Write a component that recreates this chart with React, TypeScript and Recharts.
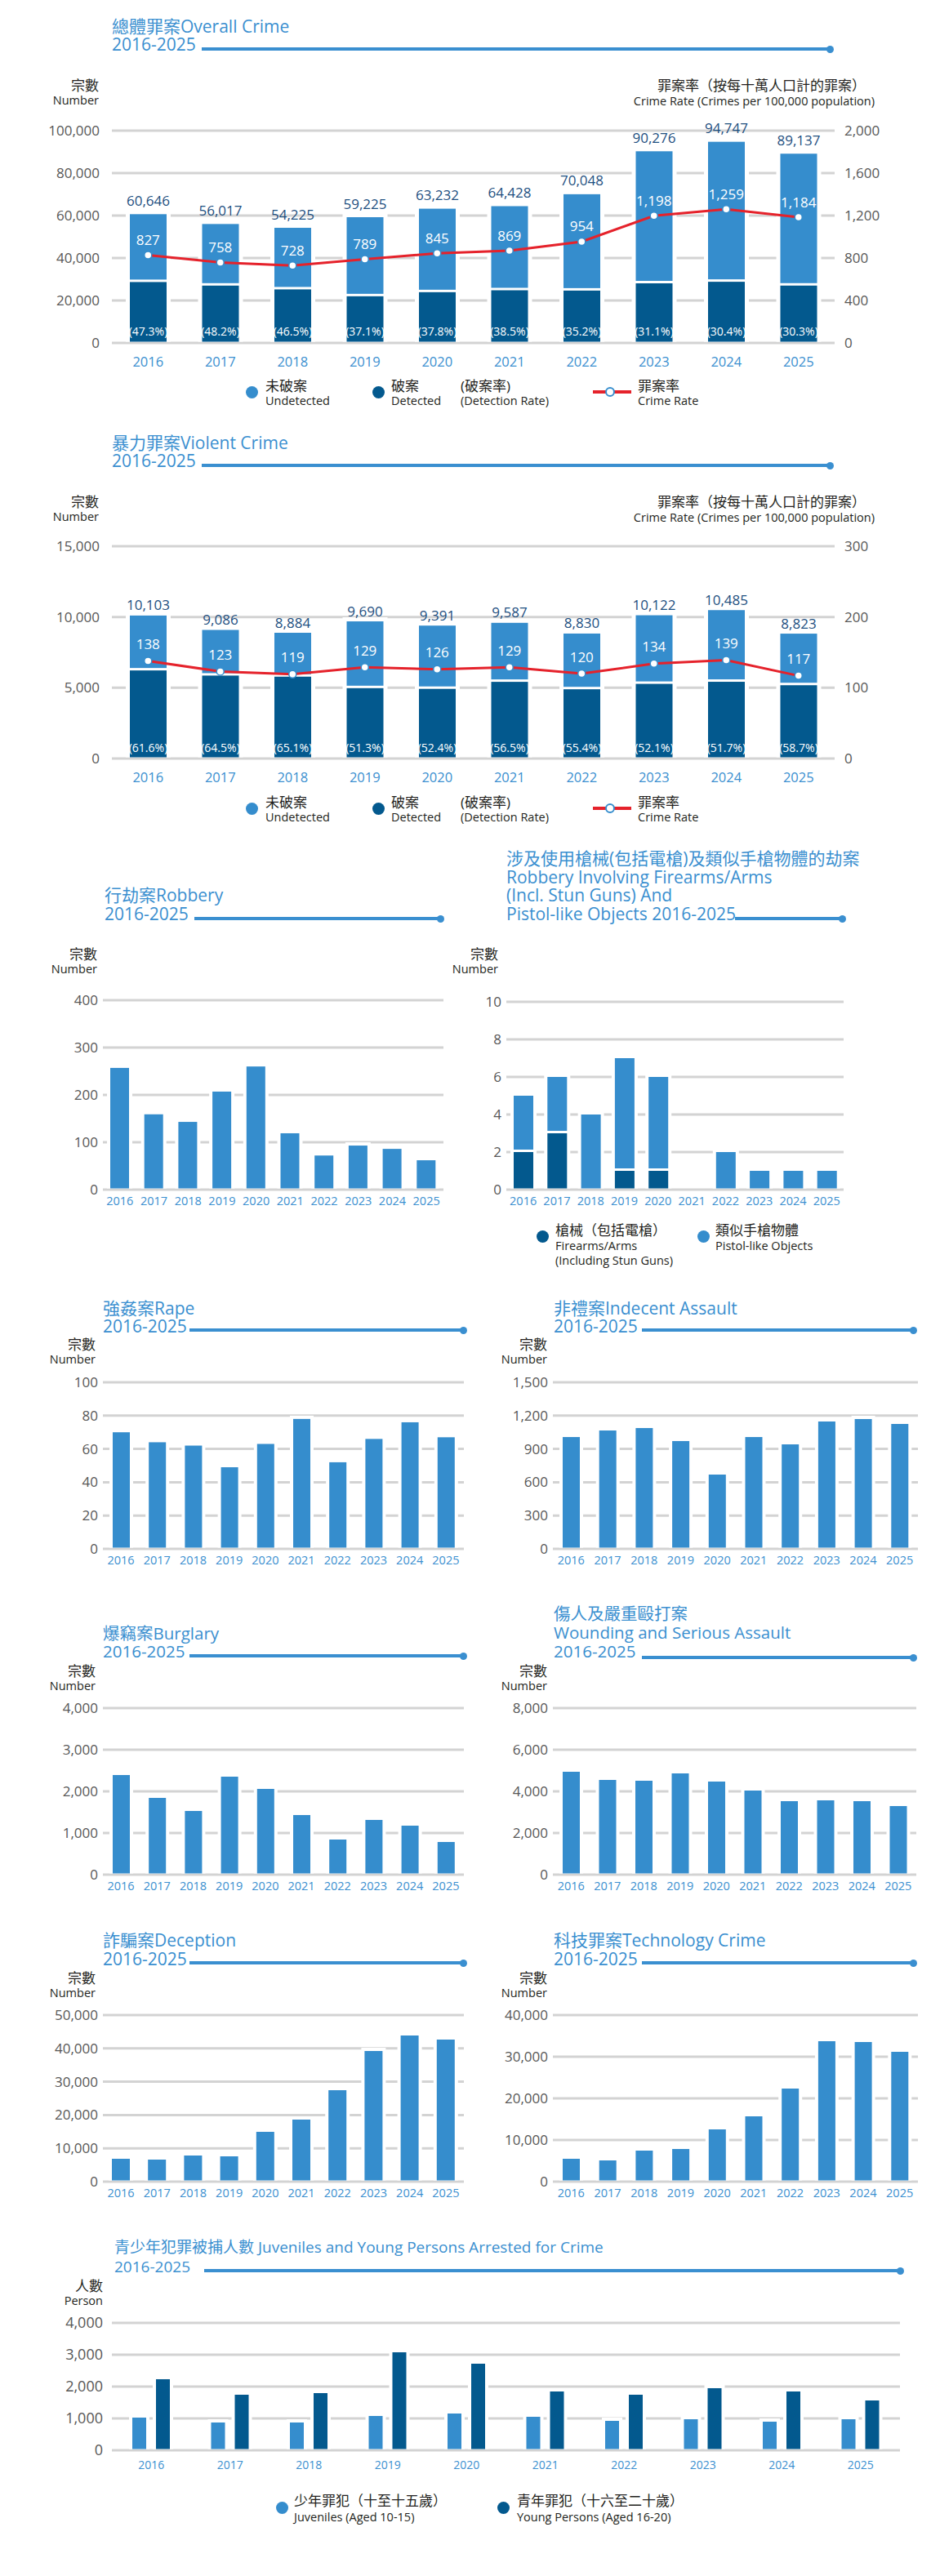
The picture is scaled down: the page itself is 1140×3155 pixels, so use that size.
import React from 'react';
import { ComposedChart, BarChart, Bar, Line, XAxis, YAxis, CartesianGrid, LabelList } from 'recharts';

const FONT = "'Open Sans', 'Noto Sans CJK TC', sans-serif";
const LIGHT = '#358dcd';
const DARK = '#03598e';
const TITLE = '#3a8fd0';
const GRID = '#d3d3d3';
const TICK = '#575757';
const RED = '#e5222b';
const INK = '#231f20';
const NAVY = '#1d4f7f';

// ---------- data ----------
const years = ['2016', '2017', '2018', '2019', '2020', '2021', '2022', '2023', '2024', '2025'];

const overallTotal = [60646, 56017, 54225, 59225, 63232, 64428, 70048, 90276, 94747, 89137];
const overallDetected = [28686, 27000, 25215, 21972, 23902, 24805, 24657, 28076, 28803, 27009];
const overallUndetected = [31960, 29017, 29010, 37253, 39330, 39623, 45391, 62200, 65944, 62128];
const overallRate = [827, 758, 728, 789, 845, 869, 954, 1198, 1259, 1184];
const overallDetectionRate = [47.3, 48.2, 46.5, 37.1, 37.8, 38.5, 35.2, 31.1, 30.4, 30.3];
const overallLeftTicks = [0, 20000, 40000, 60000, 80000, 100000];
const overallRightTicks = [0, 400, 800, 1200, 1600, 2000];

const violentTotal = [10103, 9086, 8884, 9690, 9391, 9587, 8830, 10122, 10485, 8823];
const violentDetected = [6223, 5860, 5783, 4971, 4921, 5417, 4892, 5274, 5421, 5179];
const violentUndetected = [3880, 3226, 3101, 4719, 4470, 4170, 3938, 4848, 5064, 3644];
const violentRate = [138, 123, 119, 129, 126, 129, 120, 134, 139, 117];
const violentDetectionRate = [61.6, 64.5, 65.1, 51.3, 52.4, 56.5, 55.4, 52.1, 51.7, 58.7];
const violentLeftTicks = [0, 5000, 10000, 15000];
const violentRightTicks = [0, 100, 200, 300];

const robbery = [257, 159, 143, 207, 260, 119, 72, 93, 86, 62];
const robberyTicks = [0, 100, 200, 300, 400];

const firearms = [2, 3, 0, 1, 1, 0, 0, 0, 0, 0];
const pistolLike = [3, 3, 4, 6, 5, 0, 2, 1, 1, 1];
const firearmTicks = [0, 2, 4, 6, 8, 10];

const rape = [70, 64, 62, 49, 63, 78, 52, 66, 76, 67];
const rapeTicks = [0, 20, 40, 60, 80, 100];

const indecent = [1007, 1066, 1088, 971, 669, 1007, 941, 1147, 1169, 1125];
const indecentTicks = [0, 300, 600, 900, 1200, 1500];

const burglary = [2392, 1843, 1529, 2353, 2059, 1431, 843, 1314, 1176, 784];
const burglaryTicks = [0, 1000, 2000, 3000, 4000];

const wounding = [4941, 4549, 4510, 4863, 4471, 4039, 3529, 3569, 3529, 3294];
const woundingTicks = [0, 2000, 4000, 6000, 8000];

const deception = [6863, 6618, 7843, 7598, 14950, 18627, 27451, 39216, 43873, 42647];
const deceptionTicks = [0, 10000, 20000, 30000, 40000, 50000];

const technology = [5490, 5098, 7451, 7843, 12549, 15686, 22353, 33725, 33529, 31176];
const technologyTicks = [0, 10000, 20000, 30000, 40000];

const juveniles = [1026, 872, 872, 1077, 1154, 1051, 923, 974, 897, 974];
const youngPersons = [2231, 1744, 1795, 3077, 2718, 1846, 1744, 1949, 1846, 1564];
const juvenileTicks = [0, 1000, 2000, 3000, 4000];

// ---------- tables ----------
const overallData = years.map((year, i) => ({
  year, detected: overallDetected[i], undetected: overallUndetected[i],
  total: overallTotal[i], rate: overallRate[i], dr: overallDetectionRate[i],
}));
const violentData = years.map((year, i) => ({
  year, detected: violentDetected[i], undetected: violentUndetected[i],
  total: violentTotal[i], rate: violentRate[i], dr: violentDetectionRate[i],
}));
const single = (arr: number[]) => years.map((year, i) => ({ year, v: arr[i] }));
const firearmData = years.map((year, i) => ({ year, firearms: firearms[i], pistol: pistolLike[i] }));
const juvenileData = years.map((year, i) => ({ year, juv: juveniles[i], young: youngPersons[i] }));

const fmt = (v: any) => Number(v).toLocaleString('en-US');

// ---------- helpers ----------
function haloShape(halo: number, trimFn: (p: any) => number) {
  return (props: any) => {
    const { x, y, width, height, fill, payload } = props;
    if (!height || height <= 0.5) return <g />;
    const h = Math.max(0, height - trimFn(payload || {}));
    return (
      <g>
        <rect x={x - halo} y={y - halo} width={width + 2 * halo} height={h + halo} fill="#fff" />
        <rect x={x} y={y} width={width} height={h} fill={fill} />
      </g>
    );
  };
}

const vbOf = (props: any) => {
  const vb = props.viewBox || {};
  return {
    x: vb.x ?? props.x ?? 0,
    y: vb.y ?? props.y ?? 0,
    w: vb.width ?? props.width ?? 0,
    h: vb.height ?? props.height ?? 0,
  };
};

function Txt({ x, y, size, color = INK, anchor = 'start', children }: any) {
  const style: React.CSSProperties = {
    position: 'absolute', top: y - size * 0.52, height: size, lineHeight: `${size}px`,
    fontSize: size, color, whiteSpace: 'nowrap', fontFamily: FONT,
  };
  if (anchor === 'end') { style.right = 1140 - x; style.textAlign = 'right'; } else { style.left = x; }
  return <div style={style}>{children}</div>;
}

function Rule({ y, from, to }: any) {
  return (
    <>
      <div style={{ position: 'absolute', left: from, top: y - 2, width: to - from, height: 4, background: TITLE }} />
      <div style={{ position: 'absolute', left: to - 4.5, top: y - 4.5, width: 9, height: 9, borderRadius: '50%', background: TITLE }} />
    </>
  );
}

function Title({ x, lines, size = 21, rule }: any) {
  return (
    <>
      {lines.map((l: any, i: number) => <Txt key={i} x={x} y={l[1]} size={size} color={TITLE}>{l[0]}</Txt>)}
      {rule && <Rule y={rule[0]} from={rule[1]} to={rule[2]} />}
    </>
  );
}

function Dot({ x, y, color, d = 15 }: any) {
  return <div style={{ position: 'absolute', left: x - d / 2, top: y - d / 2, width: d, height: d, borderRadius: '50%', background: color }} />;
}

function Caption({ xRight, y, cjk = '宗數', en = 'Number' }: any) {
  return (
    <>
      <Txt x={xRight} y={y} size={17} anchor="end">{cjk}</Txt>
      <Txt x={xRight} y={y + 19} size={14.5} anchor="end">{en}</Txt>
    </>
  );
}

// ---------- big stacked chart with rate line ----------
function BigChart({ plotTop, data, leftTicks, rightTicks, totalOff, rateOff, detOff }: any) {
  const padT = 45, plotH = 260, xH = 45;
  const TotalLabel = (props: any) => {
    const { x, y, w } = vbOf(props);
    return <text x={x + w / 2} y={y - totalOff} textAnchor="middle" dominantBaseline="central" fill={NAVY} fontSize={17} fontFamily={FONT}>{fmt(props.value)}</text>;
  };
  const DetLabel = (props: any) => {
    const { x, y, w, h } = vbOf(props);
    return <text x={x + w / 2} y={y + h - detOff} textAnchor="middle" dominantBaseline="central" fill="#fff" fontSize={14} fontFamily={FONT}>{`(${Number(props.value).toFixed(1)}%)`}</text>;
  };
  const RateLabel = (props: any) => {
    const { x, y } = vbOf(props);
    return <text x={x} y={y - rateOff} textAnchor="middle" dominantBaseline="central" fill="#fff" fontSize={17} fontFamily={FONT}>{fmt(props.value)}</text>;
  };
  return (
    <div style={{ position: 'absolute', left: 0, top: plotTop - padT }}>
      <ComposedChart width={1140} height={padT + plotH + xH} data={data} margin={{ top: padT, right: 38, bottom: 0, left: 0 }}>
        <CartesianGrid vertical={false} stroke={GRID} strokeWidth={3} yAxisId="left" />
        <XAxis dataKey="year" axisLine={false} tickLine={false} tickSize={0} tickMargin={17} height={xH} interval={0}
          tick={{ fill: TITLE, fontSize: 16.5, fontFamily: FONT }} />
        <YAxis yAxisId="left" domain={[0, leftTicks[leftTicks.length - 1]]} ticks={leftTicks} interval={0}
          axisLine={false} tickLine={false} tickSize={0} tickMargin={15} width={137} tickFormatter={fmt}
          tick={{ fill: TICK, fontSize: 17, fontFamily: FONT }} />
        <YAxis yAxisId="right" orientation="right" domain={[0, rightTicks[rightTicks.length - 1]]} ticks={rightTicks} interval={0}
          axisLine={false} tickLine={false} tickSize={0} tickMargin={12} width={80} tickFormatter={fmt}
          tick={{ fill: TICK, fontSize: 17, fontFamily: FONT, textAnchor: 'start' }} />
        <Bar yAxisId="left" dataKey="detected" stackId="a" fill={DARK} barSize={45} isAnimationActive={false}
          shape={haloShape(5, () => 1.5)}>
          <LabelList dataKey="dr" content={DetLabel} />
        </Bar>
        <Bar yAxisId="left" dataKey="undetected" stackId="a" fill={LIGHT} barSize={45} isAnimationActive={false}
          shape={haloShape(5, () => 3)}>
          <LabelList dataKey="total" content={TotalLabel} />
        </Bar>
        <Line yAxisId="right" type="linear" dataKey="rate" stroke={RED} strokeWidth={3} isAnimationActive={false}
          dot={{ r: 4.5, fill: '#fff', stroke: LIGHT, strokeWidth: 1.5 }} activeDot={false}>
          <LabelList dataKey="rate" content={RateLabel} />
        </Line>
      </ComposedChart>
    </div>
  );
}

function BigLegend({ y }: any) {
  return (
    <>
      <Dot x={308} y={y} color={LIGHT} />
      <Txt x={325} y={y - 7} size={17}>未破案</Txt>
      <Txt x={325} y={y + 12} size={14.5}>Undetected</Txt>
      <Dot x={463} y={y} color={DARK} />
      <Txt x={479} y={y - 7} size={17}>破案</Txt>
      <Txt x={479} y={y + 12} size={14.5}>Detected</Txt>
      <Txt x={564} y={y - 7} size={17}>(破案率)</Txt>
      <Txt x={564} y={y + 12} size={14.5}>(Detection Rate)</Txt>
      <div style={{ position: 'absolute', left: 726, top: y - 2, width: 47, height: 4, background: RED }} />
      <div style={{ position: 'absolute', left: 747 - 6, top: y - 6, width: 8, height: 8, borderRadius: '50%', background: '#fff', border: `2px solid ${LIGHT}` }} />
      <Txt x={781} y={y - 7} size={17}>罪案率</Txt>
      <Txt x={781} y={y + 12} size={14.5}>Crime Rate</Txt>
    </>
  );
}

// ---------- small bar chart ----------
function SmallChart(p: any) {
  const padL = 110, padT = 15, padR = 10, xH = 40;
  const left = p.plotLeft - padL;
  const width = p.plotRight - left + padR;
  const height = p.plotBottom - p.plotTop + padT + xH;
  return (
    <div style={{ position: 'absolute', left, top: p.plotTop - padT }}>
      <BarChart width={width} height={height} data={p.data} margin={{ top: padT, right: padR, left: 0, bottom: 0 }} barGap={p.barGap ?? 4}>
        <CartesianGrid vertical={false} stroke={GRID} strokeWidth={3} />
        <XAxis dataKey="year" axisLine={false} tickLine={false} tickSize={0} tickMargin={p.yearMargin ?? 9} height={xH} interval={0}
          tick={{ fill: TITLE, fontSize: p.yearFont ?? 14.5, fontFamily: FONT }} />
        <YAxis domain={[0, p.ticks[p.ticks.length - 1]]} ticks={p.ticks} interval={0}
          axisLine={false} tickLine={false} tickSize={0} tickMargin={p.tickGap ?? 6} width={padL} tickFormatter={fmt}
          tick={{ fill: TICK, fontSize: p.tickFont ?? 17, fontFamily: FONT }} />
        {p.series.map((s: any) => (
          <Bar key={s.key} dataKey={s.key} stackId={s.stackId} fill={s.fill} barSize={p.barSize} isAnimationActive={false}
            shape={haloShape(4, s.trim || (() => 1.5))} />
        ))}
      </BarChart>
    </div>
  );
}

const one = [{ key: 'v', fill: LIGHT }];

export default function App() {
  return (
    <div style={{ position: 'absolute', left: 0, top: 0, width: 1140, height: 3155, background: '#fff', overflow: 'hidden', fontFamily: FONT }}>
      {/* Overall crime */}
      <Title x={137} lines={[['總體罪案Overall Crime', 33], ['2016-2025', 55]]} rule={[60, 247, 1016]} />
      <Caption xRight={121} y={105} />
      <Txt x={1060} y={105} size={17} anchor="end">罪案率（按每十萬人口計的罪案）</Txt>
      <Txt x={1071} y={125} size={14.5} anchor="end">Crime Rate (Crimes per 100,000 population)</Txt>
      <BigChart plotTop={160} data={overallData} leftTicks={overallLeftTicks} rightTicks={overallRightTicks} totalOff={17} rateOff={19} detOff={15} />
      <BigLegend y={480} />

      {/* Violent crime */}
      <Title x={137} lines={[['暴力罪案Violent Crime', 543], ['2016-2025', 565]]} rule={[570, 247, 1016]} />
      <Caption xRight={121} y={615} />
      <Txt x={1060} y={615} size={17} anchor="end">罪案率（按每十萬人口計的罪案）</Txt>
      <Txt x={1071} y={635} size={14.5} anchor="end">Crime Rate (Crimes per 100,000 population)</Txt>
      <BigChart plotTop={669} data={violentData} leftTicks={violentLeftTicks} rightTicks={violentRightTicks} totalOff={13} rateOff={21} detOff={14} />
      <BigLegend y={990} />

      {/* Robbery */}
      <Title x={128} lines={[['行劫案Robbery', 1097], ['2016-2025', 1120]]} rule={[1125, 238, 539]} />
      <Caption xRight={119} y={1169} />
      <SmallChart plotLeft={126} plotRight={543} plotTop={1225} plotBottom={1457} data={single(robbery)} ticks={robberyTicks} barSize={23} series={one} />

      {/* Firearms */}
      <Title x={620} lines={[['涉及使用槍械(包括電槍)及類似手槍物體的劫案', 1052], ['Robbery Involving Firearms/Arms', 1075], ['(Incl. Stun Guns) And', 1097], ['Pistol-like Objects 2016-2025', 1120]]} rule={[1125, 900, 1031]} />
      <Caption xRight={610} y={1169} />
      <SmallChart plotLeft={620} plotRight={1033} plotTop={1227} plotBottom={1457} data={firearmData} ticks={firearmTicks} barSize={24}
        series={[
          { key: 'firearms', fill: DARK, stackId: 'f' },
          { key: 'pistol', fill: LIGHT, stackId: 'f', trim: (p: any) => (p.firearms > 0 ? 3 : 1.5) },
        ]} />
      <Dot x={664} y={1514} color={DARK} />
      <Txt x={680} y={1507} size={17}>槍械（包括電槍）</Txt>
      <Txt x={680} y={1527} size={14.5}>Firearms/Arms</Txt>
      <Txt x={680} y={1545} size={14.5}>(Including Stun Guns)</Txt>
      <Dot x={861} y={1514} color={LIGHT} />
      <Txt x={876} y={1507} size={17}>類似手槍物體</Txt>
      <Txt x={876} y={1527} size={14.5}>Pistol-like Objects</Txt>

      {/* Rape */}
      <Title x={126} lines={[['強姦案Rape', 1603], ['2016-2025', 1625]]} rule={[1629, 232, 567]} />
      <Caption xRight={117} y={1647} />
      <SmallChart plotLeft={126} plotRight={568} plotTop={1693} plotBottom={1897} data={single(rape)} ticks={rapeTicks} barSize={21} series={one} />

      {/* Indecent assault */}
      <Title x={678} lines={[['非禮案Indecent Assault', 1603], ['2016-2025', 1625]]} rule={[1629, 786, 1118]} />
      <Caption xRight={670} y={1647} />
      <SmallChart plotLeft={677} plotRight={1124} plotTop={1693} plotBottom={1897} data={single(indecent)} ticks={indecentTicks} barSize={21} series={one} />

      {/* Burglary */}
      <Title x={126} size={20.5} lines={[['爆竊案Burglary', 2001], ['2016-2025', 2023]]} rule={[2028, 232, 567]} />
      <Caption xRight={117} y={2047} />
      <SmallChart plotLeft={126} plotRight={568} plotTop={2092} plotBottom={2296} data={single(burglary)} ticks={burglaryTicks} barSize={21} series={one} />

      {/* Wounding */}
      <Title x={678} size={20.5} lines={[['傷人及嚴重毆打案', 1977], ['Wounding and Serious Assault', 2000], ['2016-2025', 2023]]} rule={[2030, 786, 1118]} />
      <Caption xRight={670} y={2047} />
      <SmallChart plotLeft={677} plotRight={1122} plotTop={2092} plotBottom={2296} data={single(wounding)} ticks={woundingTicks} barSize={21} series={one} />

      {/* Deception */}
      <Title x={126} lines={[['詐騙案Deception', 2377], ['2016-2025', 2400]]} rule={[2404, 232, 567]} />
      <Caption xRight={117} y={2423} />
      <SmallChart plotLeft={126} plotRight={568} plotTop={2468} plotBottom={2672} data={single(deception)} ticks={deceptionTicks} barSize={22} series={one} />

      {/* Technology crime */}
      <Title x={678} lines={[['科技罪案Technology Crime', 2377], ['2016-2025', 2400]]} rule={[2404, 786, 1118]} />
      <Caption xRight={670} y={2423} />
      <SmallChart plotLeft={677} plotRight={1124} plotTop={2468} plotBottom={2672} data={single(technology)} ticks={technologyTicks} barSize={21} series={one} />

      {/* Juveniles */}
      <Title x={140} size={19} lines={[['青少年犯罪被捕人數 Juveniles and Young Persons Arrested for Crime', 2753], ['2016-2025', 2777]]} rule={[2781, 250, 1102]} />
      <Caption xRight={126} y={2800} cjk="人數" en="Person" />
      <SmallChart plotLeft={137} plotRight={1102} plotTop={2845} plotBottom={3001} data={juvenileData} ticks={juvenileTicks} barSize={17} barGap={12}
        yearFont={14} yearMargin={13} tickGap={11} tickFont={18}
        series={[{ key: 'juv', fill: LIGHT }, { key: 'young', fill: DARK }]} />
      <Dot x={345} y={3071} color={LIGHT} />
      <Txt x={360} y={3063} size={17}>少年罪犯（十至十五歲）</Txt>
      <Txt x={360} y={3084} size={14.5}>Juveniles (Aged 10-15)</Txt>
      <Dot x={616} y={3071} color={DARK} />
      <Txt x={633} y={3063} size={17}>青年罪犯（十六至二十歲）</Txt>
      <Txt x={633} y={3084} size={14.5}>Young Persons (Aged 16-20)</Txt>
    </div>
  );
}
